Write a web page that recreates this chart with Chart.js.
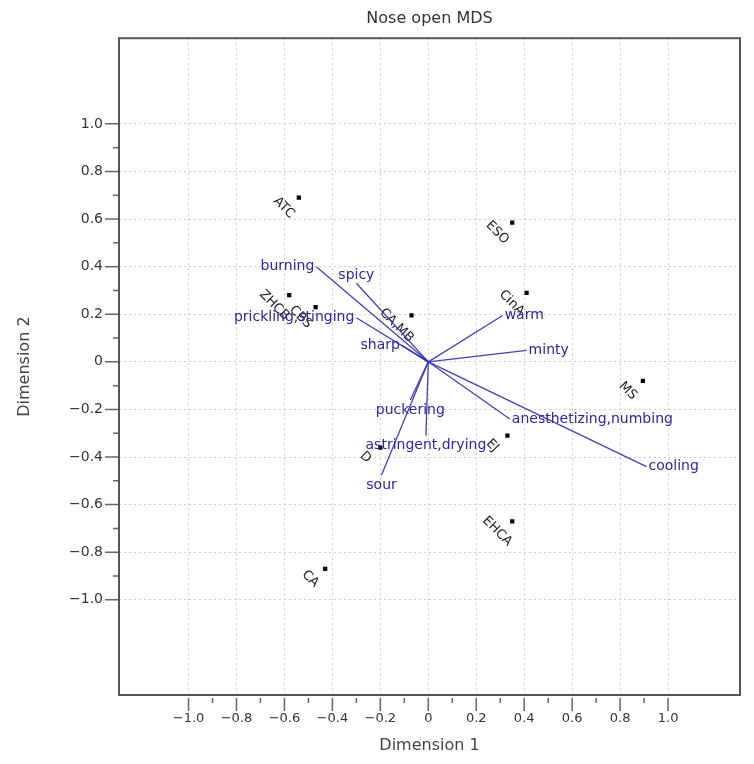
<!DOCTYPE html>
<html>
<head>
<meta charset="utf-8">
<script src="https://cdn.jsdelivr.net/npm/chart.js@4"></script>
<style>
  body { margin: 0; background: #fff; }
  #wrap { width: 754px; height: 764px; }
</style>
</head>
<body>
<div id="wrap"><canvas id="chart"></canvas></div>
<script>
// samples (black points)
const sampleNames = ['ATC', 'ZHCB', 'CBS', 'CA,MB', 'ESO', 'CinA', 'MS', 'EJ', 'EHCA', 'CA', 'D'];
const sampleDim1 = [-0.54, -0.58, -0.47, -0.07, 0.35, 0.41, 0.895, 0.33, 0.35, -0.43, -0.20];
const sampleDim2 = [0.69, 0.28, 0.23, 0.195, 0.585, 0.29, -0.08, -0.31, -0.67, -0.87, -0.36];

// attributes (blue vectors from the origin)
const attrNames = ['burning', 'spicy', 'prickling,stinging', 'sharp', 'warm', 'minty',
  'anesthetizing,numbing', 'cooling', 'puckering', 'astringent,drying', 'sour'];
const attrDim1 = [-0.467, -0.30, -0.30, -0.11, 0.31, 0.41, 0.34, 0.91, -0.075, -0.01, -0.195];
const attrDim2 = [0.40, 0.33, 0.185, 0.07, 0.195, 0.048, -0.24, -0.44, -0.16, -0.31, -0.475];

const majorTicks = [-1.0, -0.8, -0.6, -0.4, -0.2, 0, 0.2, 0.4, 0.6, 0.8, 1.0];
const minorTicks = [-0.9, -0.7, -0.5, -0.3, -0.1, 0.1, 0.3, 0.5, 0.7, 0.9];

const blue = 'rgba(45,45,170,0.9)';
const fontFamily = '"DejaVu Sans", sans-serif';
Chart.defaults.font.family = fontFamily;

function fmt(v) {
  if (Math.abs(v) < 1e-9) return '0';
  return (v < 0 ? '\u2212' : '') + Math.abs(v).toFixed(1);
}

const datasets = [];
attrNames.forEach((name, i) => {
  datasets.push({
    label: name,
    data: [{ x: 0, y: 0 }, { x: attrDim1[i], y: attrDim2[i] }],
    showLine: true,
    borderColor: blue,
    borderWidth: 1.3,
    pointRadius: 0
  });
});
datasets.push({
  label: 'samples',
  data: sampleNames.map((n, i) => ({ x: sampleDim1[i], y: sampleDim2[i] })),
  pointStyle: 'rect',
  pointRadius: 3,
  backgroundColor: '#000',
  borderColor: '#000',
  borderWidth: 0
});

const extras = {
  id: 'extras',
  beforeDatasetsDraw(chart) {
    const ctx = chart.ctx;
    const xs = chart.scales.x, ys = chart.scales.y;
    ctx.save();
    ctx.font = '13px ' + fontFamily;
    ctx.fillStyle = '#222';
    ctx.textAlign = 'center';
    ctx.textBaseline = 'middle';
    sampleNames.forEach((name, i) => {
      const px = xs.getPixelForValue(sampleDim1[i]);
      const py = ys.getPixelForValue(sampleDim2[i]);
      ctx.save();
      ctx.translate(px - 15, py + 10);
      ctx.rotate(Math.PI / 4);
      ctx.fillText(name, 0, 0);
      ctx.restore();
    });
    ctx.restore();
  },
  afterDatasetsDraw(chart) {
    const ctx = chart.ctx;
    const xs = chart.scales.x, ys = chart.scales.y;
    const a = chart.chartArea;
    ctx.save();
    // attribute labels
    ctx.font = '14px ' + fontFamily;
    ctx.fillStyle = '#28289a';
    attrNames.forEach((name, i) => {
      const dx = attrDim1[i], dy = attrDim2[i];
      const px = xs.getPixelForValue(dx), py = ys.getPixelForValue(dy);
      if (Math.abs(dy) > Math.abs(dx)) {
        ctx.textAlign = 'center';
        ctx.textBaseline = dy > 0 ? 'bottom' : 'top';
        ctx.fillText(name, px, dy > 0 ? py - 1 : py + 3);
      } else {
        ctx.textAlign = dx > 0 ? 'left' : 'right';
        ctx.textBaseline = 'middle';
        ctx.fillText(name, dx > 0 ? px + 2 : px - 2, py);
      }
    });
    // tick marks
    ctx.strokeStyle = '#666';
    ctx.lineWidth = 1.5;
    ctx.beginPath();
    majorTicks.forEach(v => {
      const x = xs.getPixelForValue(v);
      ctx.moveTo(x, a.bottom + 3); ctx.lineTo(x, a.bottom + 16);
      const y = ys.getPixelForValue(v);
      ctx.moveTo(a.left - 14, y); ctx.lineTo(a.left, y);
    });
    minorTicks.forEach(v => {
      const x = xs.getPixelForValue(v);
      ctx.moveTo(x, a.bottom + 3); ctx.lineTo(x, a.bottom + 8);
      const y = ys.getPixelForValue(v);
      ctx.moveTo(a.left - 6, y); ctx.lineTo(a.left, y);
    });
    ctx.stroke();
    // frame
    ctx.strokeStyle = '#555';
    ctx.lineWidth = 2;
    ctx.strokeRect(a.left, a.top, a.right - a.left, a.bottom - a.top);
    ctx.restore();
  }
};

const ctx = document.getElementById('chart').getContext('2d');
new Chart(ctx, {
  type: 'scatter',
  data: { datasets: datasets },
  plugins: [extras],
  options: {
    responsive: true,
    maintainAspectRatio: false,
    animation: false,
    layout: { padding: { left: 0, right: 14, top: 0, bottom: 0 } },
    plugins: {
      legend: { display: false },
      tooltip: { enabled: false },
      title: {
        display: true,
        text: 'Nose open MDS',
        fullSize: false,
        color: '#333',
        font: { size: 16, weight: 'normal' },
        padding: { top: 9, bottom: 10 }
      }
    },
    scales: {
      x: {
        type: 'linear',
        min: -1.29,
        max: 1.30,
        afterBuildTicks: s => { s.ticks = majorTicks.map(v => ({ value: v })); },
        afterFit: s => { s.height = 69; },
        ticks: {
          autoSkip: false,
          maxRotation: 0,
          padding: 16,
          color: '#333',
          font: { size: 13 },
          callback: v => fmt(v)
        },
        grid: { color: '#cdcdcd', lineWidth: 1, drawTicks: false },
        border: { display: false, dash: [2, 3] },
        title: {
          display: true,
          text: 'Dimension 1',
          color: '#444',
          font: { size: 16 },
          padding: { bottom: 9 }
        }
      },
      y: {
        type: 'linear',
        min: -1.40,
        max: 1.36,
        afterBuildTicks: s => { s.ticks = majorTicks.map(v => ({ value: v })); },
        afterFit: s => { s.width = 119; },
        ticks: {
          autoSkip: false,
          padding: 16,
          color: '#333',
          font: { size: 14 },
          callback: v => fmt(v)
        },
        grid: { color: '#cdcdcd', lineWidth: 1, drawTicks: false },
        border: { display: false, dash: [2, 3] },
        title: {
          display: true,
          text: 'Dimension 2',
          color: '#444',
          font: { size: 16 },
          padding: { top: 15 }
        }
      }
    }
  }
});
</script>
</body>
</html>
